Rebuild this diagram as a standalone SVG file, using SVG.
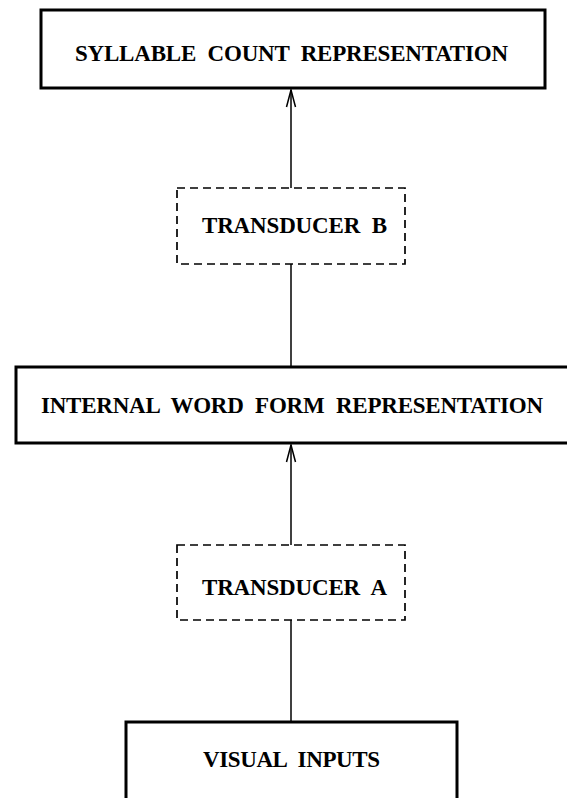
<svg xmlns="http://www.w3.org/2000/svg" width="567" height="798" viewBox="0 0 567 798">
<style>
.solid{fill:none;stroke:#000;stroke-width:3}
.dash{fill:none;stroke:#000;stroke-width:1.7;stroke-dasharray:8 5}
.lbl{font-family:"Liberation Serif","Times New Roman",serif;font-weight:bold;font-size:23px;fill:#000;text-anchor:middle;word-spacing:6px}
.conn{fill:none;stroke:#000;stroke-width:1.5}
</style>
<rect width="567" height="798" fill="#fff"/>
<g id="syllable">
<rect class="solid" x="41" y="10" width="504" height="78"/>
<text class="lbl" x="291.5" y="61" textLength="433" lengthAdjust="spacing">SYLLABLE COUNT REPRESENTATION</text>
</g>
<g id="transducerB">
<rect class="dash" x="177" y="188" width="228" height="76"/>
<text class="lbl" x="294.5" y="233" textLength="185" lengthAdjust="spacing">TRANSDUCER B</text>
</g>
<g id="internal">
<path class="solid" d="M570 367 H16 V443 H570"/>
<text class="lbl" x="292" y="413" textLength="502" lengthAdjust="spacing">INTERNAL WORD FORM REPRESENTATION</text>
</g>
<g id="transducerA">
<rect class="dash" x="177" y="545" width="228" height="75"/>
<text class="lbl" x="294.5" y="595" textLength="185" lengthAdjust="spacing">TRANSDUCER A</text>
</g>
<g id="visual">
<path class="solid" d="M126 801 V722 H457 V801"/>
<text class="lbl" x="291.5" y="767" textLength="177" lengthAdjust="spacing">VISUAL INPUTS</text>
</g>
<g id="connectors">
<line class="conn" x1="291" y1="188" x2="291" y2="90"/>
<path class="conn" d="M286.5 107 L291 90 L295.5 107"/>
<line class="conn" x1="291" y1="264" x2="291" y2="367"/>
<line class="conn" x1="291" y1="545" x2="291" y2="445"/>
<path class="conn" d="M286.5 462 L291 445 L295.5 462"/>
<line class="conn" x1="291" y1="620" x2="291" y2="722"/>
</g>
</svg>
